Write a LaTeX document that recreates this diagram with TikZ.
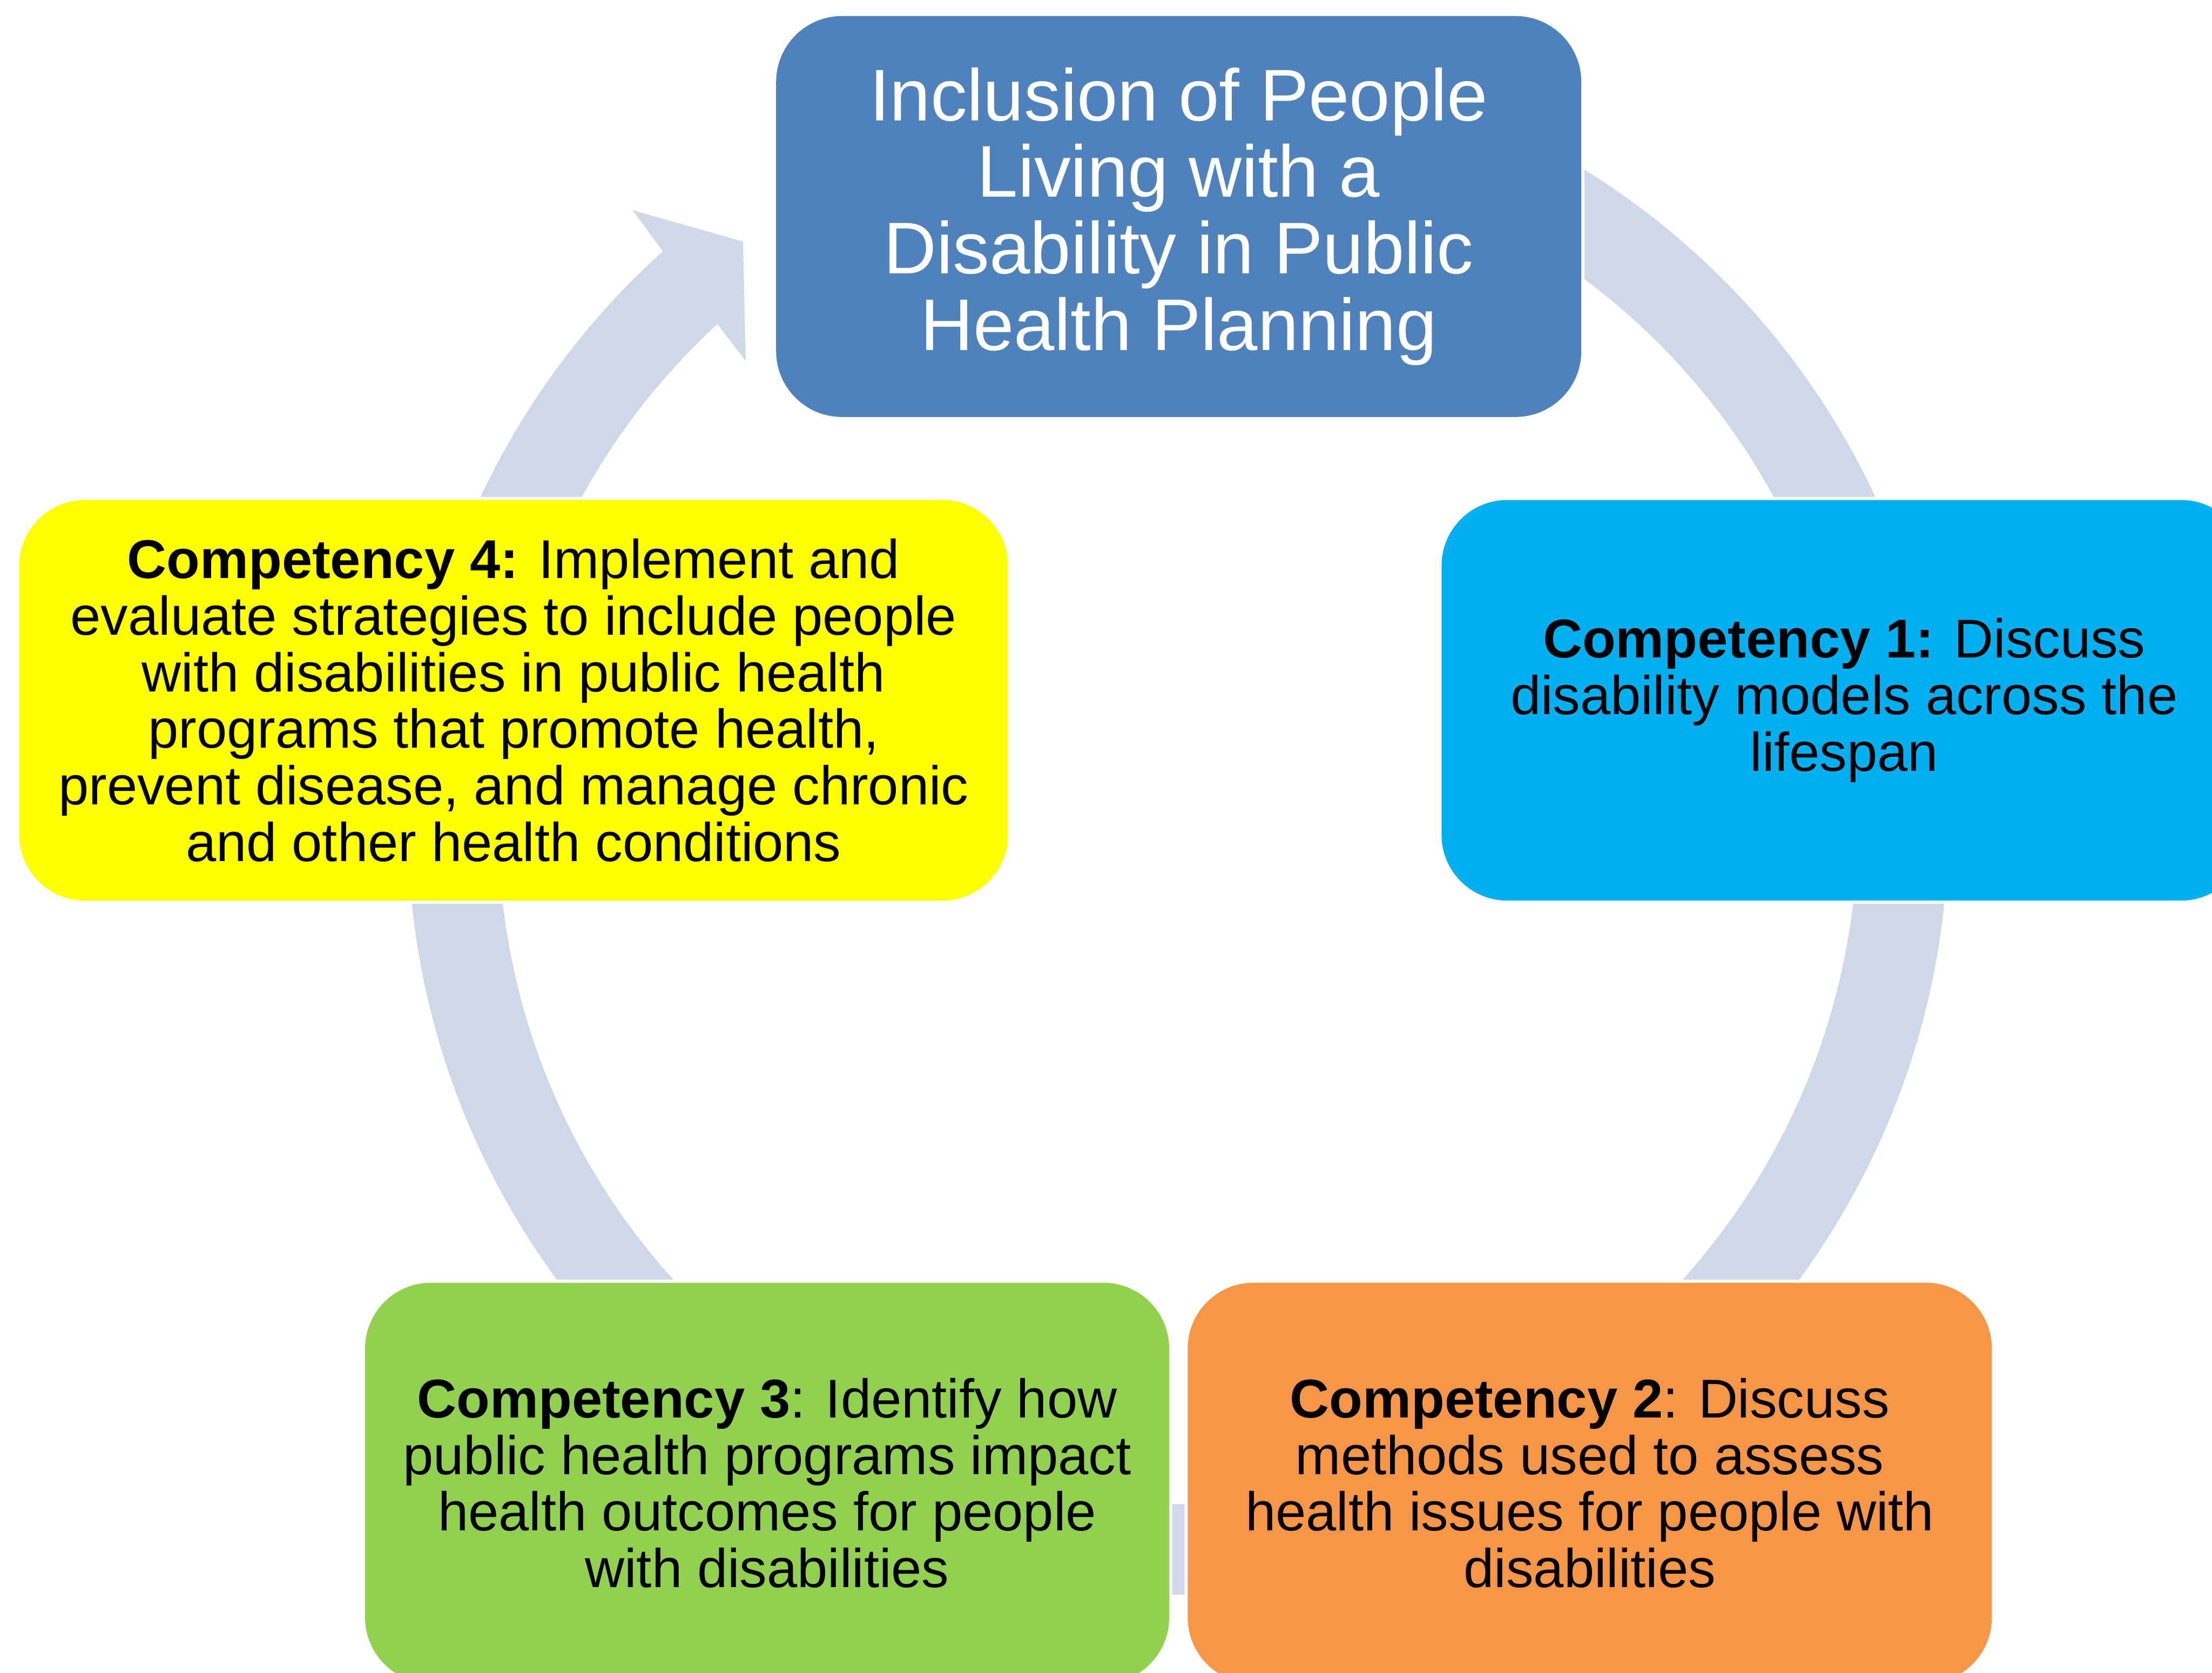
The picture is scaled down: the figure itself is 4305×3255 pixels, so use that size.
\documentclass[tikz,border=0pt]{standalone}
\usepackage{fontspec}
\setmainfont{Liberation Sans}
\usetikzlibrary{calc}
\definecolor{ringfill}{HTML}{D0D8E8}
\definecolor{topblue}{HTML}{4F81BD}
\definecolor{compcyan}{HTML}{00B0F0}
\definecolor{comporange}{HTML}{F79646}
\definecolor{compgreen}{HTML}{92D050}
\definecolor{compyellow}{HTML}{FFFF00}
\tikzset{
  card/.style={rounded corners=1.28cm, inner sep=0pt, outer sep=0pt,
    minimum height=7.79cm, minimum width=15.66cm, align=center,
    preaction={draw=white, line width=0.12cm, rounded corners=1.28cm}},
  hubcard/.style={card, fill=topblue, text=white,
    font=\fontsize{40.5pt}{42.4pt}\selectfont},
  compcard/.style={card, text=black,
    font=\fontsize{30.2pt}{31.3pt}\selectfont}
}
\begin{document}
\begin{tikzpicture}[x=0.01cm, y=0.01cm]
  \useasboundingbox (0,0) rectangle (4305,-3255);
  \clip (0,0) rectangle (4305,-3255);
  \fill[white] (0,0) rectangle (4305,-3255);

  % cycle ring with the arrow head pointing into the hub
  \begin{scope}[shift={(2292.5,-1603.4)}]
    \coordinate (ringc) at (0,0);
    \fill[ringfill] (60:1499) arc[start angle=60, end angle=-228.04, radius=1499]
      -- (131.63:1598) -- (126.75:1414.6) -- (133.03:1233) -- (132.65:1323)
      arc[start angle=-227.35, end angle=60, radius=1323] -- cycle;
  \end{scope}

  % hub
  \node[hubcard, minimum height=7.795cm] (hub) at (2294,-421.25)
    {Inclusion of People\\Living with a\\Disability in Public\\Health Planning};

  % competencies
  \node[compcard, fill=compcyan] (c1) at (3589,-1362.5)
    {\textbf{Competency 1:} Discuss\\disability models across the\\lifespan};
  \node[compcard, fill=comporange, minimum width=15.64cm] (c2) at (3094,-2885.5)
    {\textbf{Competency 2}: Discuss\\methods used to assess\\health issues for people with\\disabilities};
  \node[compcard, fill=compgreen, minimum width=15.64cm] (c3) at (1493,-2885.5)
    {\textbf{Competency 3}: Identify how\\public health programs impact\\health outcomes for people\\with disabilities};
  \node[compcard, fill=compyellow, minimum width=19.23cm] (c4) at (999.5,-1362.5)
    {\textbf{Competency 4:} Implement and\\evaluate strategies to include people\\with disabilities in public health\\programs that promote health,\\prevent disease, and manage chronic\\and other health conditions};
\end{tikzpicture}
\end{document}
